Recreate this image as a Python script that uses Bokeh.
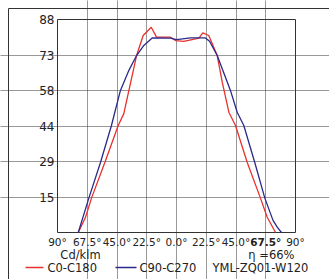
from bokeh.plotting import figure
from bokeh.models import Label, FixedTicker, LinearAxis
from bokeh.embed import file_html
from bokeh.resources import INLINE

# C0-C180 (red)
red_angle = [-74.3, -68.8, -64.3, -54.2, -44.1, -39.9, -36.0, -30.2, -25.2, -19.1, -15.1, -4.5,
             -0.8, 5.5, 14.4, 17.0, 19.9, 24.4, 30.8, 34.6, 39.6, 44.6, 53.5, 63.5, 68.6, 74.9]
red_value = [0, 6.3, 14.2, 28.9, 44.2, 49.0, 58.7, 73.1, 81.4, 84.8, 80.7, 80.7,
             79.3, 79.0, 80.0, 80.3, 82.5, 81.4, 73.1, 62.1, 49.7, 44.2, 28.9, 14.2, 6.3, 0]
# C90-C270 (blue)
blue_angle = [-74.3, -66.3, -57.5, -49.2, -42.4, -36.0, -30.2, -24.7, -18.4, -4.5, 0.0, 10.6,
              21.9, 25.0, 30.8, 40.8, 45.9, 50.9, 59.2, 66.8, 73.0, 76.2, 79.4]
blue_value = [0, 14.2, 28.9, 44.2, 58.7, 67.0, 73.1, 77.3, 80.4, 80.3, 79.7, 80.4,
              80.4, 79.0, 73.1, 58.7, 49.7, 44.2, 28.9, 14.2, 5.0, 2.2, 0]

x_ticks = [-90, -67.5, -45, -22.5, 0, 22.5, 45, 67.5, 90]
x_labels = ["90°", "67.5°", "45.0°", "22.5°", "0.0°", "22.5°", "45.0°", "", "90°"]
y_ticks = [0, 88 / 6, 2 * 88 / 6, 3 * 88 / 6, 4 * 88 / 6, 5 * 88 / 6, 88]
y_labels = ["", "15", "29", "44", "58", "73", "88"]
series_names = ["C0-C180", "C90-C270"]
model_name = "YML-ZQ01-W120"
unit_text = "Cd/klm"
eff_text = "η =66%"

RED = "#e8302c"
BLUE = "#2b2a8a"
FONT = "DejaVu Sans"
TXT = "#222222"

# frame covers the whole canvas; ranges chosen so the plot box sits at px 57..295 x 19..232
PX_PER_DEG = 29.75 / 22.5
PX_PER_VAL = 213 / 88
x0 = -90 - 57 / PX_PER_DEG
x1 = -90 + (329 - 57) / PX_PER_DEG
y0 = -(279 - 232) / PX_PER_VAL
y1 = 232 / PX_PER_VAL


def ax(px):
    return -90 + (px - 57) / PX_PER_DEG


def ay(py):
    return (232 - py) / PX_PER_VAL


p = figure(width=329, height=279, output_backend="svg", toolbar_location=None,
           x_range=(x0, x1), y_range=(y0, y1), x_axis_location=None, y_axis_location=None,
           min_border=0)
p.outline_line_color = None

# grid
p.xgrid.ticker = FixedTicker(ticks=x_ticks[1:-1])
p.ygrid.ticker = FixedTicker(ticks=y_ticks[1:-1])
p.xgrid.bounds = (0, 88)
p.ygrid.bounds = (-90, 90)
for g in (p.xgrid[0], p.ygrid[0]):
    g.grid_line_color = "#333333"
    g.grid_line_dash = "1 1"
    g.grid_line_width = 1

# outer border (top and left edges visible)
p.quad(left=ax(8), right=x1 + 50, top=ay(8), bottom=y0 - 50,
       fill_color=None, line_color="#333333", line_width=1)
# plot box
p.quad(left=-90, right=90, bottom=0, top=88, fill_color=None, line_color="#333333", line_width=1)

p.line(red_angle, red_value, line_color=RED, line_width=1.3)
p.line(blue_angle, blue_value, line_color=BLUE, line_width=1.3)

xax = LinearAxis(fixed_location=0, ticker=FixedTicker(ticks=x_ticks),
                 major_label_overrides={t: l for t, l in zip(x_ticks, x_labels)})
yax = LinearAxis(fixed_location=-90, ticker=FixedTicker(ticks=y_ticks),
                 major_label_overrides={t: l for t, l in zip(y_ticks, y_labels)})
for a in (xax, yax):
    a.axis_line_color = None
    a.major_tick_line_color = None
    a.minor_tick_line_color = None
    a.major_tick_out = 0
    a.major_tick_in = 0
    a.minor_tick_out = 0
    a.minor_tick_in = 0
    a.major_label_text_font = FONT
    a.major_label_text_color = TXT
xax.major_label_text_font_size = "10.5px"
xax.major_label_standoff = 3
yax.major_label_text_font_size = "12px"
yax.major_label_standoff = 3
p.add_layout(xax, "below")
p.add_layout(yax, "left")

# bold 67.5 label
p.add_layout(Label(x=67.5, y=ay(241), text="67.5°", text_font=FONT, text_font_size="10.5px",
                   text_font_style="bold", text_align="center", text_baseline="middle",
                   text_color=TXT))
p.add_layout(Label(x=ax(80), y=ay(254), text=unit_text, text_font=FONT, text_font_size="11.5px",
                   text_align="center", text_baseline="middle", text_color=TXT))
p.add_layout(Label(x=ax(294), y=ay(254), text=eff_text, text_font=FONT, text_font_size="11.5px",
                   text_align="right", text_baseline="middle", text_color=TXT))

# legend row
ly = ay(267)
p.line([ax(25), ax(43)], [ly, ly], line_color=RED, line_width=1.3)
p.line([ax(115), ax(136)], [ly, ly], line_color=BLUE, line_width=1.3)
for txt, px in zip(series_names + [model_name], [47, 139, 212]):
    p.add_layout(Label(x=ax(px), y=ly, text=txt, text_font=FONT, text_font_size="11.5px",
                       text_align="left", text_baseline="middle", text_color=TXT))

open("out.html", "w").write(file_html(p, INLINE))
